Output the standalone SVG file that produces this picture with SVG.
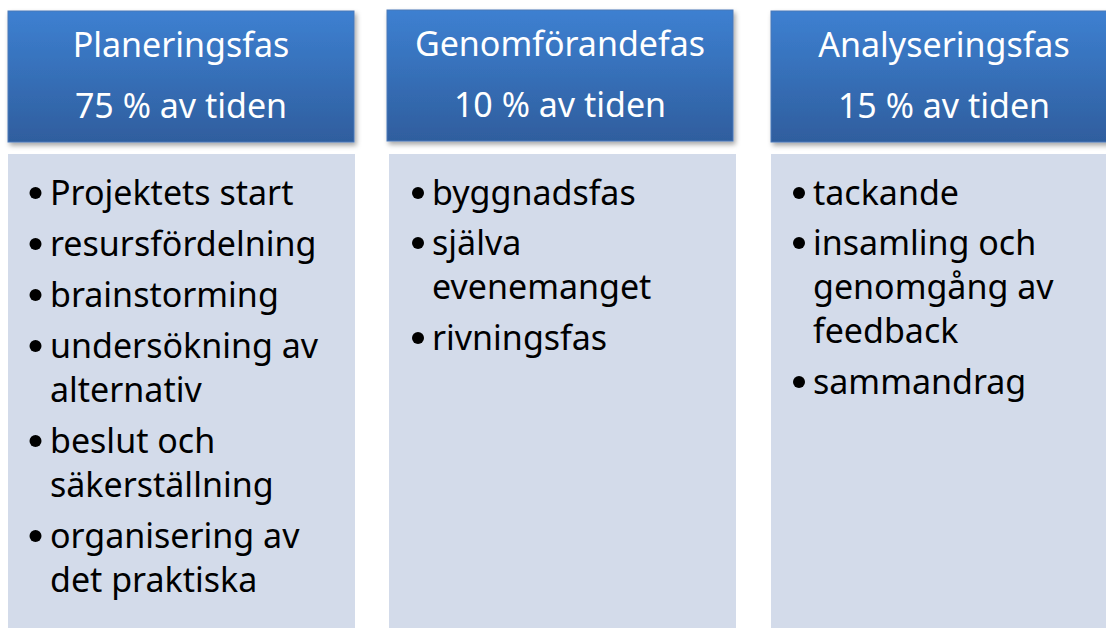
<svg xmlns="http://www.w3.org/2000/svg" width="1106" height="628" viewBox="0 0 1106 628">
  <defs>
    <linearGradient id="hdr" x1="0" y1="0" x2="0" y2="1">
      <stop offset="0" stop-color="#3d80d1"/>
      <stop offset="1" stop-color="#2f5e9e"/>
    </linearGradient>
    <filter id="shadow" x="-10%" y="-10%" width="125%" height="130%">
      <feDropShadow dx="2" dy="3" stdDeviation="2.5" flood-color="#000" flood-opacity="0.35"/>
    </filter>
    <style>
      .hdr { fill: url(#hdr); stroke: #4a78b8; stroke-width: 1; filter: url(#shadow); }
      .body { fill: #d3dbea; }
      .ht { font-family: "Noto Sans", "Open Sans", sans-serif; font-size: 34px; fill: #ffffff; text-anchor: middle; }
      .bt { font-family: "Noto Sans", "Open Sans", sans-serif; font-size: 34px; fill: #000000; }
      .dot { fill: #000000; }
    </style>
  </defs>
  <rect width="1106" height="628" fill="#ffffff"/>

  <g id="planeringsfas">
    <rect class="hdr" x="8" y="11" width="346" height="131"/>
    <text class="ht" x="181" y="57">Planeringsfas</text>
    <text class="ht" x="181" y="118">75 % av tiden</text>
    <rect class="body" x="8" y="154" width="347" height="480"/>
    <circle class="dot" cx="35.5" cy="193" r="6"/>
    <text class="bt" x="50" y="205">Projektets start</text>
    <circle class="dot" cx="35.5" cy="244" r="6"/>
    <text class="bt" x="50" y="256">resursfördelning</text>
    <circle class="dot" cx="35.5" cy="295" r="6"/>
    <text class="bt" x="50" y="307">brainstorming</text>
    <circle class="dot" cx="35.5" cy="346" r="6"/>
    <text class="bt" x="50" y="358">undersökning av</text>
    <text class="bt" x="50" y="402">alternativ</text>
    <circle class="dot" cx="35.5" cy="441" r="6"/>
    <text class="bt" x="50" y="453">beslut och</text>
    <text class="bt" x="50" y="497">säkerställning</text>
    <circle class="dot" cx="35.5" cy="536" r="6"/>
    <text class="bt" x="50" y="548">organisering av</text>
    <text class="bt" x="50" y="592">det praktiska</text>
  </g>

  <g id="genomforandefas">
    <rect class="hdr" x="387" y="10" width="346" height="131"/>
    <text class="ht" x="560" y="56">Genomförandefas</text>
    <text class="ht" x="560" y="117">10 % av tiden</text>
    <rect class="body" x="389" y="154" width="347" height="480"/>
    <circle class="dot" cx="418" cy="193" r="6"/>
    <text class="bt" x="432" y="205">byggnadsfas</text>
    <circle class="dot" cx="418" cy="243" r="6"/>
    <text class="bt" x="432" y="255">själva</text>
    <text class="bt" x="432" y="299">evenemanget</text>
    <circle class="dot" cx="418" cy="338" r="6"/>
    <text class="bt" x="432" y="350">rivningsfas</text>
  </g>

  <g id="analyseringsfas">
    <rect class="hdr" x="771" y="11" width="346" height="131"/>
    <text class="ht" x="944" y="57">Analyseringsfas</text>
    <text class="ht" x="944" y="118">15 % av tiden</text>
    <rect class="body" x="771" y="154" width="347" height="480"/>
    <circle class="dot" cx="799" cy="193" r="6"/>
    <text class="bt" x="813" y="205">tackande</text>
    <circle class="dot" cx="799" cy="243" r="6"/>
    <text class="bt" x="813" y="255">insamling och</text>
    <text class="bt" x="813" y="299">genomgång av</text>
    <text class="bt" x="813" y="343">feedback</text>
    <circle class="dot" cx="799" cy="382" r="6"/>
    <text class="bt" x="813" y="394">sammandrag</text>
  </g>

  <g id="connectors"/>
</svg>
